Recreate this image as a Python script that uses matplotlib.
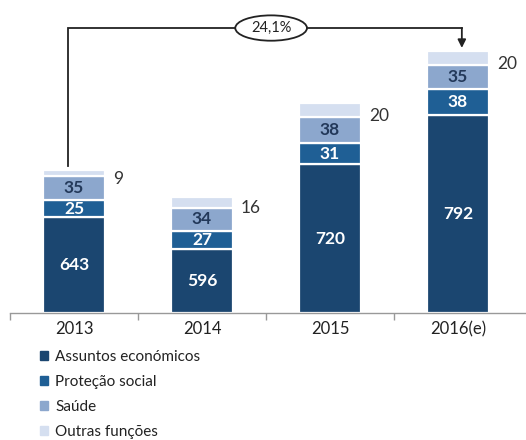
import matplotlib
matplotlib.use("Agg")
import matplotlib.pyplot as plt
from matplotlib.patches import Ellipse
import numpy as np

plt.rcParams['font.family'] = ['Lato', 'DejaVu Sans']

years = ["2013", "2014", "2015", "2016(e)"]
assuntos = [643, 596, 720, 792]
protecao = [25, 27, 31, 38]
saude = [35, 34, 38, 35]
outras = [9, 16, 20, 20]
series_names = ["Assuntos económicos", "Proteção social", "Saúde", "Outras funções"]
growth_label = "24,1%"

colors = ["#1b4670", "#1f5f95", "#8ca7cd", "#d5dff0"]
text_colors = ["white", "white", "#23395a", None]

fig = plt.figure(figsize=(5.26, 4.40), dpi=100)
ax = fig.add_axes([10 / 526, 1 - 313 / 440, 516 / 526, 313 / 440])

x = np.arange(len(years))
width = 0.485
y0 = 503

bottom = np.full(len(years), y0, dtype=float)
for k, (vals, col, tcol) in enumerate(zip([assuntos, protecao, saude, outras], colors, text_colors)):
    vals = np.array(vals, dtype=float)
    heights = vals - y0 if k == 0 else vals
    ax.bar(x, heights, width, bottom=bottom, color=col, edgecolor="white",
           linewidth=1.6, zorder=2)
    top = bottom + heights
    for i in range(len(years)):
        mid = (bottom[i] + top[i]) / 2
        if tcol is not None:
            ax.text(x[i], mid, f"{int(vals[i])}", ha="center", va="center",
                    color=tcol, fontsize=12.5, fontweight="bold", zorder=3)
        else:
            ax.text(x[i] + width / 2 + 0.06, mid - 9, f"{int(vals[i])}",
                    ha="left", va="center", color="#333333", fontsize=12.5, zorder=3)
    bottom = top

ax.set_xlim(-0.5, len(years) - 0.5 + 4 / 128)
ax.set_ylim(y0, y0 + 313 / 0.685)

# growth bracket from first to last bar
totals = bottom
bracket_y = totals[-1] + 34
x_left = x[0] - 0.05
x_right = x[-1] + 0.03
ax.plot([x_left, x_left, x_right], [totals[0] + 5, bracket_y, bracket_y],
        color="#222222", lw=1.3, zorder=3, solid_joinstyle="miter")
ax.annotate("", xy=(x_right, totals[-1] + 5), xytext=(x_right, bracket_y),
            arrowprops=dict(arrowstyle="-|>", color="#222222", lw=1.3,
                            mutation_scale=12, shrinkA=0, shrinkB=0), zorder=3)
ell_x = 1.54
ax.add_patch(Ellipse((ell_x, bracket_y), 0.56, 37, facecolor="white",
                     edgecolor="#222222", lw=1.3, zorder=4))
ax.text(ell_x, bracket_y, growth_label, ha="center", va="center",
        fontsize=10.5, color="#222222", zorder=5)

# axes styling
for s in ["top", "right", "left"]:
    ax.spines[s].set_visible(False)
ax.spines["bottom"].set_color("#999999")
ax.spines["bottom"].set_linewidth(1.0)
ax.set_yticks([])
ax.set_xticks(np.arange(len(years)) - 0.5, minor=True)
ax.set_xticks(x)
ax.set_xticklabels(years, fontsize=12, color="#222222")
ax.tick_params(axis="x", which="major", length=0, pad=6)
ax.tick_params(axis="x", which="minor", length=5, color="#999999", width=1.0)

# legend
handles = [plt.Rectangle((0, 0), 1, 1, color=c) for c in colors]
fig.legend(handles, series_names, loc="upper left",
           bbox_to_anchor=(40 / 526, 1 - 350 / 440), frameon=False,
           fontsize=11, handlelength=0.55, handleheight=0.55,
           handletextpad=0.45, labelspacing=0.72, labelcolor="#222222",
           borderaxespad=0, borderpad=0)

fig.savefig("out.png", dpi=100)
